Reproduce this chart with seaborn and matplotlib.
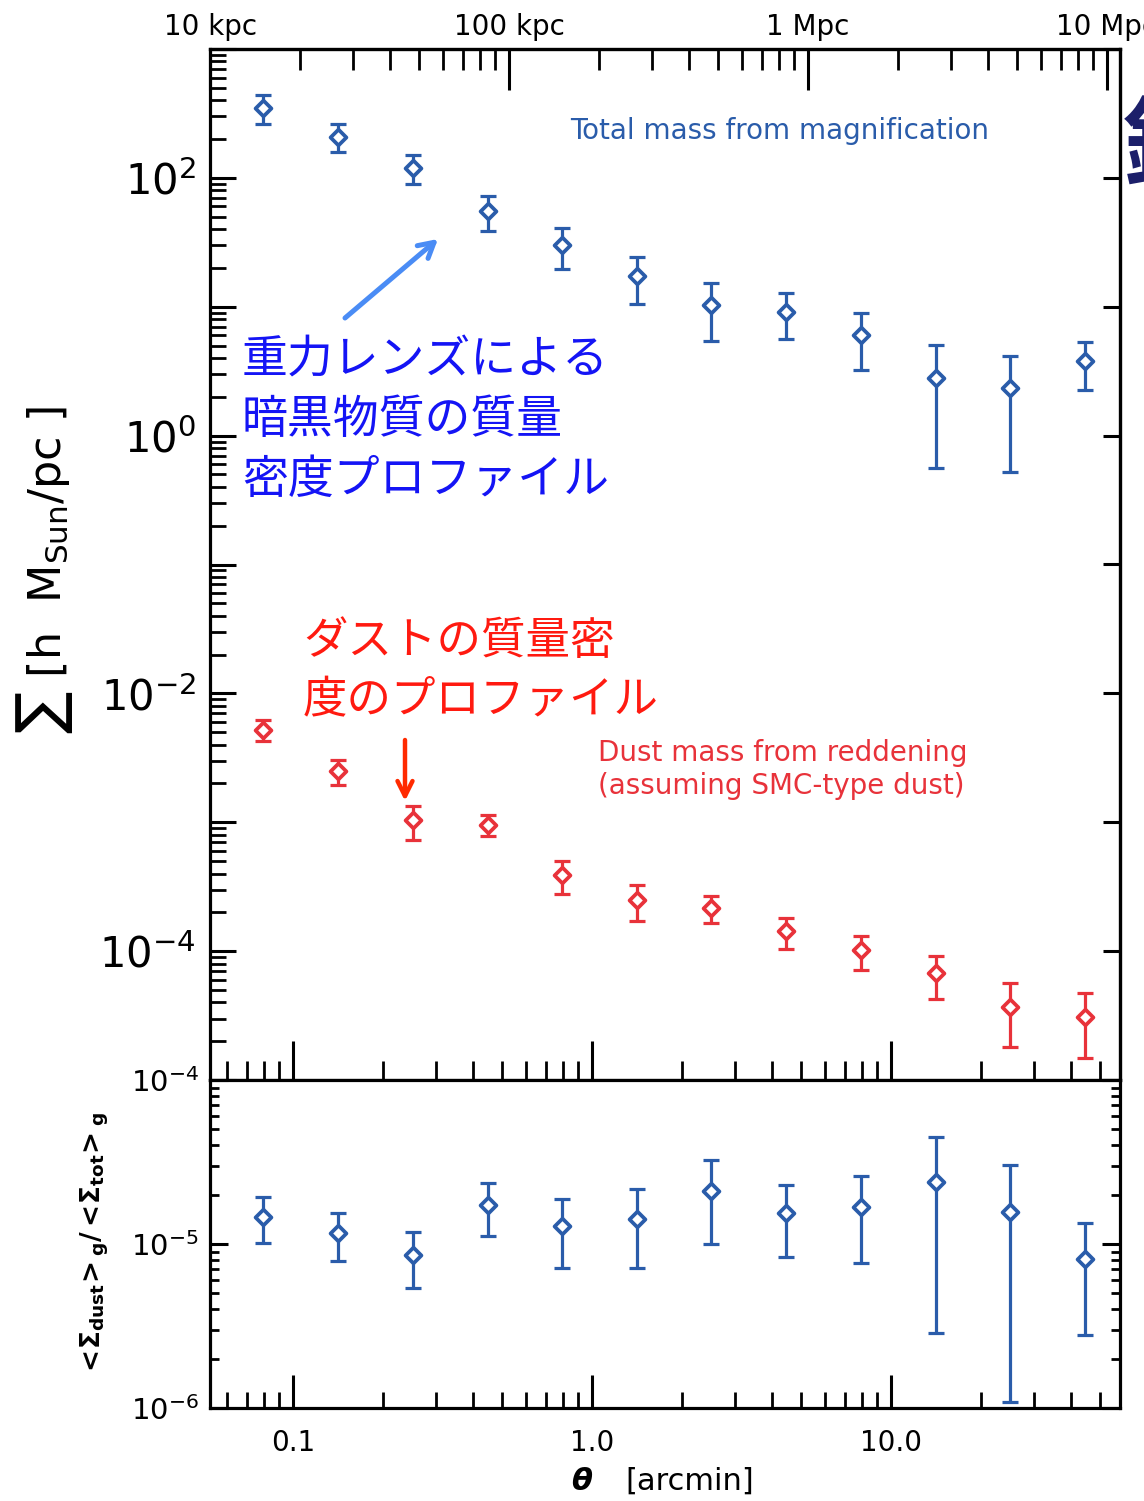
import numpy as np
import pandas as pd
import matplotlib
matplotlib.use("Agg")
import matplotlib.pyplot as plt
import seaborn as sns
from matplotlib.ticker import FixedLocator, NullLocator, NullFormatter, LogLocator, FuncFormatter

# Angular bins (arcmin)
theta = [0.079, 0.141, 0.251, 0.447, 0.794, 1.41, 2.51, 4.47, 7.94, 14.1, 25.1, 44.7]

# Total surface mass density from magnification
sigma_tot = [347, 209, 119, 55.2, 30.1, 17.4, 10.3, 9.15, 6.07, 2.82, 2.33, 3.78]
sigma_tot_lo = [261, 159, 90, 38.5, 19.8, 10.5, 5.4, 5.65, 3.25, 0.559, 0.52, 2.26]
sigma_tot_hi = [440, 261, 150, 72.1, 40.6, 24.5, 15.3, 12.7, 8.89, 5.07, 4.15, 5.32]

# Dust surface mass density from reddening
sigma_dust = [5.2e-3, 2.48e-3, 1.04e-3, 9.55e-4, 3.88e-4, 2.48e-4, 2.15e-4, 1.42e-4, 1.02e-4, 6.72e-5, 3.68e-5, 3.08e-5]
sigma_dust_lo = [4.25e-3, 1.94e-3, 7.3e-4, 7.8e-4, 2.79e-4, 1.72e-4, 1.64e-4, 1.04e-4, 7.17e-5, 4.28e-5, 1.79e-5, 1.49e-5]
sigma_dust_hi = [6.2e-3, 3.04e-3, 1.33e-3, 1.14e-3, 4.99e-4, 3.27e-4, 2.70e-4, 1.81e-4, 1.32e-4, 9.2e-5, 5.62e-5, 4.70e-5]

# Dust-to-total ratio
ratio = [1.47e-5, 1.16e-5, 8.57e-6, 1.73e-5, 1.29e-5, 1.42e-5, 2.11e-5, 1.55e-5, 1.68e-5, 2.38e-5, 1.57e-5, 8.10e-6]
ratio_lo = [1.02e-5, 7.87e-6, 5.36e-6, 1.12e-5, 7.16e-6, 7.11e-6, 9.96e-6, 8.29e-6, 7.69e-6, 2.87e-6, 1.09e-6, 2.78e-6]
ratio_hi = [1.93e-5, 1.55e-5, 1.19e-5, 2.35e-5, 1.88e-5, 2.16e-5, 3.24e-5, 2.29e-5, 2.60e-5, 4.49e-5, 3.05e-5, 1.34e-5]

# Physical scale on the top axis
kpc_ticks = [10, 100, 1000, 10000]
kpc_labels = ["10 kpc", "100 kpc", "1 Mpc", "10 Mpc"]
KPC_PER_ARCMIN = 189.5

x_ticks = [0.1, 1.0, 10.0]
x_tick_labels = ["0.1", "1.0", "10.0"]

BLUE = "#2a5caa"
RED = "#e8323a"
JP_BLUE = "#1414f5"
JP_RED = "#ff1a10"

sns.set_theme(style="ticks")
plt.rcParams["font.family"] = ["DejaVu Sans"]
plt.rcParams["mathtext.fontset"] = "dejavusans"
plt.rcParams["text.color"] = "black"
plt.rcParams["xtick.color"] = "black"
plt.rcParams["ytick.color"] = "black"
plt.rcParams["xtick.labelcolor"] = "black"
plt.rcParams["ytick.labelcolor"] = "black"
JP = ["Noto Sans CJK JP", "DejaVu Sans"]

W, H = 1144, 1501
fig = plt.figure(figsize=(W / 100, H / 100), dpi=100)


def fx(px):
    return px / W


def fy(py):
    return 1 - py / H


ax1 = fig.add_axes([fx(210), fy(1080), fx(1120) - fx(210), fy(49) - fy(1080)])
ax2 = fig.add_axes([fx(210), fy(1408), fx(1120) - fx(210), fy(1080) - fy(1408)])


def draw_series(ax, x, y, lo, hi, color):
    y = np.asarray(y)
    yerr = [y - np.asarray(lo), np.asarray(hi) - y]
    ax.errorbar(x, y, yerr=yerr, fmt="none", ecolor=color, elinewidth=2.3,
                capsize=5.5, capthick=2.3, zorder=2)
    df = pd.DataFrame({"theta": x, "value": y})
    sns.scatterplot(data=df, x="theta", y="value", marker="D", s=65, color="white",
                    edgecolor=color, linewidth=2.7, ax=ax, zorder=3, legend=False)


draw_series(ax1, theta, sigma_tot, sigma_tot_lo, sigma_tot_hi, BLUE)
draw_series(ax1, theta, sigma_dust, sigma_dust_lo, sigma_dust_hi, RED)
draw_series(ax2, theta, ratio, ratio_lo, ratio_hi, BLUE)

XMIN, XMAX = 0.0527, 58.4
for ax in (ax1, ax2):
    ax.set_xscale("log")
    ax.set_yscale("log")
    ax.set_xlim(XMIN, XMAX)
    ax.set_xlabel("")
    ax.set_ylabel("")
    for sp in ax.spines.values():
        sp.set_linewidth(2.3)
        sp.set_color("black")
        sp.set_visible(True)
    ax.xaxis.set_major_locator(FixedLocator(x_ticks))
    ax.xaxis.set_minor_locator(LogLocator(base=10, subs=np.arange(2, 10), numticks=100))
    ax.xaxis.set_minor_formatter(NullFormatter())

ax1.set_ylim(1e-5, 1e3)
ax2.set_ylim(1e-6, 1e-4)

# main panel: x ticks only at the bottom, no labels
ax1.tick_params(axis="x", which="major", direction="in", length=28, width=2.2,
                bottom=True, top=False, labelbottom=False)
ax1.tick_params(axis="x", which="minor", direction="in", length=14, width=2.0,
                bottom=True, top=False)

# main panel y ticks
ax1.yaxis.set_major_locator(FixedLocator([10.0 ** k for k in range(-5, 4)]))
ax1.yaxis.set_minor_locator(LogLocator(base=10, subs=np.arange(2, 10), numticks=100))
ax1.yaxis.set_minor_formatter(NullFormatter())


def even_decades(v, pos):
    k = int(round(np.log10(v)))
    if k % 2 == 0 and -4 <= k <= 2:
        return r"$10^{%d}$" % k
    return ""


ax1.yaxis.set_major_formatter(FuncFormatter(even_decades))
ax1.tick_params(axis="y", which="major", direction="in", length=19, width=2.2,
                left=True, right=False, labelsize=30, pad=10)
ax1.tick_params(axis="y", which="minor", direction="in", length=11.5, width=2.0,
                left=True, right=False)

# right-hand decade ticks on the main panel
sec_y = ax1.secondary_yaxis("right", functions=(lambda v: v, lambda v: v))
sec_y.yaxis.set_major_locator(FixedLocator([10.0 ** k for k in range(-5, 4)]))
sec_y.yaxis.set_minor_locator(NullLocator())
sec_y.tick_params(axis="y", which="major", direction="in", length=12, width=2.2,
                  labelright=False)
sec_y.spines["right"].set_linewidth(2.3)

# top axis in physical units
sec_x = ax1.secondary_xaxis("top", functions=(lambda t: t * KPC_PER_ARCMIN,
                                               lambda d: d / KPC_PER_ARCMIN))
sec_x.xaxis.set_major_locator(FixedLocator(kpc_ticks))
sec_x.xaxis.set_major_formatter(FuncFormatter(lambda v, p: kpc_labels[kpc_ticks.index(int(round(v)))]
                                              if int(round(v)) in kpc_ticks else ""))
sec_x.xaxis.set_minor_locator(FixedLocator([m * 10.0 ** e for e in (1, 2, 3) for m in range(2, 10)]))
sec_x.xaxis.set_minor_formatter(NullFormatter())
sec_x.tick_params(axis="x", which="major", direction="in", length=29.5, width=2.2,
                  labelsize=20, pad=6)
sec_x.tick_params(axis="x", which="minor", direction="in", length=15, width=2.0)
sec_x.spines["top"].set_linewidth(2.3)

# ratio panel
ax2.xaxis.set_major_formatter(FuncFormatter(lambda v, p: x_tick_labels[x_ticks.index(v)]
                                            if v in x_ticks else ""))
ax2.tick_params(axis="x", which="major", direction="in", length=24, width=2.2,
                bottom=True, top=False, labelsize=20, pad=15)
ax2.tick_params(axis="x", which="minor", direction="in", length=11.5, width=2.0,
                bottom=True, top=False)
ax2.yaxis.set_major_locator(FixedLocator([1e-6, 1e-5, 1e-4]))
ax2.yaxis.set_major_formatter(FuncFormatter(lambda v, p: r"$10^{%d}$" % int(round(np.log10(v)))))
ax2.yaxis.set_minor_locator(LogLocator(base=10, subs=np.arange(2, 10), numticks=100))
ax2.yaxis.set_minor_formatter(NullFormatter())
ax2.tick_params(axis="y", which="major", direction="in", length=13, width=2.2,
                left=True, right=True, labelsize=21, pad=8)
ax2.tick_params(axis="y", which="minor", direction="in", length=6.5, width=2.0,
                left=True, right=True)

# axis titles
fig.text(fx(45), fy(570), r"$\sum\ \left[\mathrm{h\ \ M_{Sun}/pc}\ \right]$", rotation=90,
         fontsize=32, ha="center", va="center")
fig.text(fx(95), fy(1245), r"$\mathbf{<\!\Sigma_{dust}\!>_{g} / <\!\Sigma_{tot}\!>_{g}}$",
         rotation=90, fontsize=19, ha="center", va="center")
fig.text(fx(582), fy(1481), "θ", fontsize=22, fontweight="bold", fontstyle="italic",
         ha="center", va="center")
fig.text(fx(690), fy(1481), "[arcmin]", fontsize=22, ha="center", va="center")

# series notes
fig.text(fx(570), fy(131), "Total mass from magnification", color=BLUE,
         fontsize=20, ha="left", va="center")
fig.text(fx(598), fy(753), "Dust mass from reddening", color=RED,
         fontsize=20, ha="left", va="center")
fig.text(fx(598), fy(786), "(assuming SMC-type dust)", color=RED,
         fontsize=20, ha="left", va="center")

# Japanese call-outs
for i, line in enumerate(["重力レンズによる", "暗黒物質の質量", "密度プロファイル"]):
    fig.text(fx(242), fy(360 + 60 * i), line, color=JP_BLUE, fontsize=33,
             family=JP, ha="left", va="center")
for i, line in enumerate(["ダストの質量密", "度のプロファイル"]):
    fig.text(fx(303), fy(641 + 59 * i), line, color=JP_RED, fontsize=32,
             family=JP, ha="left", va="center")

fig.text(fx(1123), fy(150), "銀", color="#1c1f6a", fontsize=70, fontweight="bold",
         family=JP, ha="left", va="center")

# arrows pointing at the profiles
ax1.annotate("", xy=(fx(438), fy(239)), xytext=(fx(345), fy(318)),
             xycoords="figure fraction", textcoords="figure fraction",
             arrowprops=dict(arrowstyle="->,head_length=0.9,head_width=0.5",
                             color="#4a8cf5", lw=3.6, shrinkA=0, shrinkB=0))
ax1.annotate("", xy=(fx(405), fy(801)), xytext=(fx(405), fy(740)),
             xycoords="figure fraction", textcoords="figure fraction",
             arrowprops=dict(arrowstyle="->,head_length=0.9,head_width=0.45",
                             color="#ff2a00", lw=3.2, shrinkA=0, shrinkB=0))

fig.savefig("out.png", dpi=100)
